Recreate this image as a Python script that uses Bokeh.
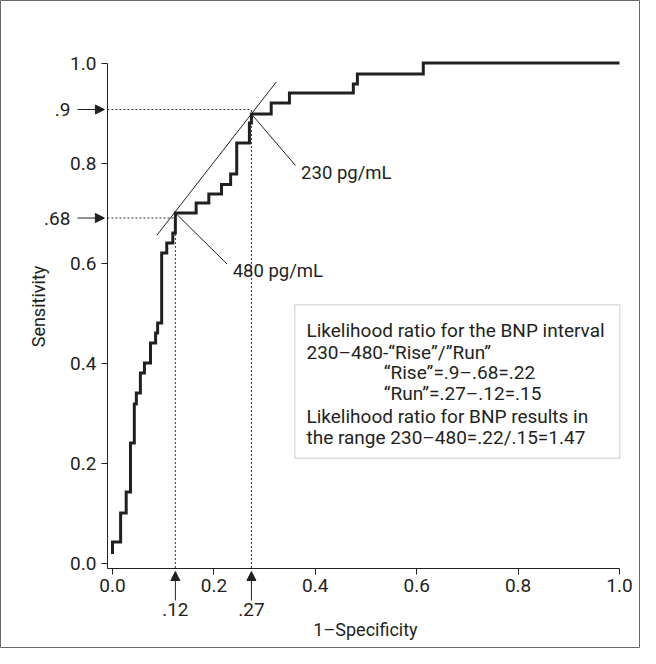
from bokeh.plotting import figure
from bokeh.models import (Range1d, FixedTicker, PrintfTickFormatter, Label,
                          Arrow, NormalHead, BoxAnnotation)
from bokeh.embed import file_html
from bokeh.resources import INLINE

# ROC curve vertices (1-specificity, sensitivity), step "after"
roc_fpr = [0.0, 0.0, 0.016, 0.027, 0.0355, 0.043, 0.047, 0.055, 0.063, 0.075,
           0.085, 0.089, 0.097, 0.107, 0.119, 0.124, 0.165, 0.19, 0.215, 0.233,
           0.245, 0.27, 0.274, 0.313, 0.349, 0.475, 0.483, 0.613, 1.0]
roc_tpr = [0.018, 0.042, 0.10, 0.142, 0.24, 0.318, 0.34, 0.38, 0.40, 0.44,
           0.46, 0.48, 0.62, 0.64, 0.66, 0.70, 0.72, 0.738, 0.757, 0.778,
           0.84, 0.88, 0.898, 0.92, 0.94, 0.958, 0.978, 1.0, 1.0]

x_ticks = [0.0, 0.2, 0.4, 0.6, 0.8, 1.0]
y_ticks = [0.0, 0.2, 0.4, 0.6, 0.8, 1.0]
axis_start = -0.01
axis_end = 1.0

# cut-off points on the curve
cut_labels = ["480 pg/mL", "230 pg/mL"]
cut_x = [0.124, 0.274]
cut_y = [0.70, 0.898]
callout_end_x = [0.226, 0.361]
callout_end_y = [0.598, 0.795]

# reference marks on the axes
mark_x = [0.124, 0.274]
mark_x_labels = [".12", ".27"]
mark_y = [0.69, 0.907]
mark_y_labels = [".68", ".9"]

# tangent ("rise over run") line
tangent_x = [0.088, 0.323]
tangent_y = [0.656, 0.962]

box_lines = [
    "Likelihood ratio for the BNP interval",
    "230\u2013480-\u201cRise\u201d/\u201dRun\u201d",
    "\u201cRise\u201d=.9\u2013.68=.22",
    "\u201cRun\u201d=.27\u2013.12=.15",
    "Likelihood ratio for BNP results in",
    "the range 230\u2013480=.22/.15=1.47",
]

INK = "#231f20"
FONT = "Roboto"

p = figure(width=640, height=648, x_range=Range1d(-0.2209, 1.0414),
           y_range=Range1d(-0.171, 1.125), output_backend="svg",
           toolbar_location=None, min_border=0)
p.background_fill_color = "white"
p.border_fill_color = "white"
p.outline_line_color = "#6a6a6a"
p.outline_line_width = 1
p.grid.visible = False

for ax, ticks in ((p.xaxis[0], x_ticks), (p.yaxis[0], y_ticks)):
    ax.fixed_location = axis_start
    ax.bounds = (axis_start, axis_end)
    ax.ticker = FixedTicker(ticks=ticks)
    ax.formatter = PrintfTickFormatter(format="%.1f")
    ax.major_tick_out = 6
    ax.major_tick_in = 0
    ax.minor_tick_line_color = None
    ax.axis_line_color = INK
    ax.major_tick_line_color = INK
    ax.major_label_text_font = FONT
    ax.major_label_text_font_size = "19px"
    ax.major_label_text_color = INK
    ax.major_label_standoff = 5

# dashed guide lines
p.segment(x0=[axis_start] * len(mark_y), y0=mark_y, x1=mark_x, y1=mark_y,
          line_color="#333333", line_width=1, line_dash="2 2")
p.segment(x0=mark_x, y0=[axis_start] * len(mark_x), x1=mark_x, y1=mark_y,
          line_color="#333333", line_width=1, line_dash="2 2")

# tangent line
p.line(tangent_x, tangent_y, line_color=INK, line_width=1)

# callout lines
p.segment(x0=cut_x, y0=cut_y, x1=callout_end_x, y1=callout_end_y,
          line_color=INK, line_width=1)

# ROC curve
p.step(roc_fpr, roc_tpr, mode="after", line_width=3, line_color=INK,
       line_join="miter")

for lab, ex, ey in zip(cut_labels, callout_end_x, callout_end_y):
    p.add_layout(Label(x=ex + 0.011, y=ey - 0.014, text=lab, text_font=FONT,
                       text_font_size="18.5px", text_color=INK,
                       text_baseline="middle", text_align="left"))

# arrows + labels on the y side
for yv, lab in zip(mark_y, mark_y_labels):
    p.add_layout(Arrow(end=NormalHead(size=9, fill_color=INK, line_color=INK),
                       x_start=-0.069, y_start=yv, x_end=-0.016, y_end=yv,
                       line_color=INK, line_width=1))
    p.add_layout(Label(x=-0.083, y=yv, text=lab, text_font=FONT,
                       text_font_size="19px", text_color=INK,
                       text_baseline="middle", text_align="right"))

# arrows + labels on the x side
for xv, lab in zip(mark_x, mark_x_labels):
    p.add_layout(Arrow(end=NormalHead(size=9, fill_color=INK, line_color=INK),
                       x_start=xv, y_start=-0.075, x_end=xv, y_end=-0.017,
                       line_color=INK, line_width=1))
    p.add_layout(Label(x=xv, y=-0.093, text=lab, text_font=FONT,
                       text_font_size="19px", text_color=INK,
                       text_baseline="middle", text_align="center"))

# axis titles
p.add_layout(Label(x=0.499, y=-0.133, text="1\u2013Specificity", text_font=FONT,
                   text_font_size="18px", text_color=INK,
                   text_baseline="middle", text_align="center"))
p.add_layout(Label(x=-0.146, y=0.513, text="Sensitivity", text_font=FONT,
                   text_font_size="18px", text_color=INK, angle=1.5708,
                   text_baseline="middle", text_align="center"))

# annotation box
p.add_layout(BoxAnnotation(left=0.3596, right=1.0006, top=0.5164, bottom=0.2096,
                           fill_color="white", fill_alpha=1.0,
                           line_color="#555555", line_width=1, level="annotation"))
line_x = [0.3826, 0.3826, 0.5351, 0.5351, 0.3826, 0.3826]
line_y = [0.465, 0.4216, 0.3804, 0.3384, 0.293, 0.2516]
for txt, lx, ly in zip(box_lines, line_x, line_y):
    p.add_layout(Label(x=lx, y=ly, text=txt, text_font=FONT,
                       text_font_size="19px", text_color=INK,
                       text_baseline="middle", text_align="left"))

open("out.html", "w").write(file_html(p, INLINE))
